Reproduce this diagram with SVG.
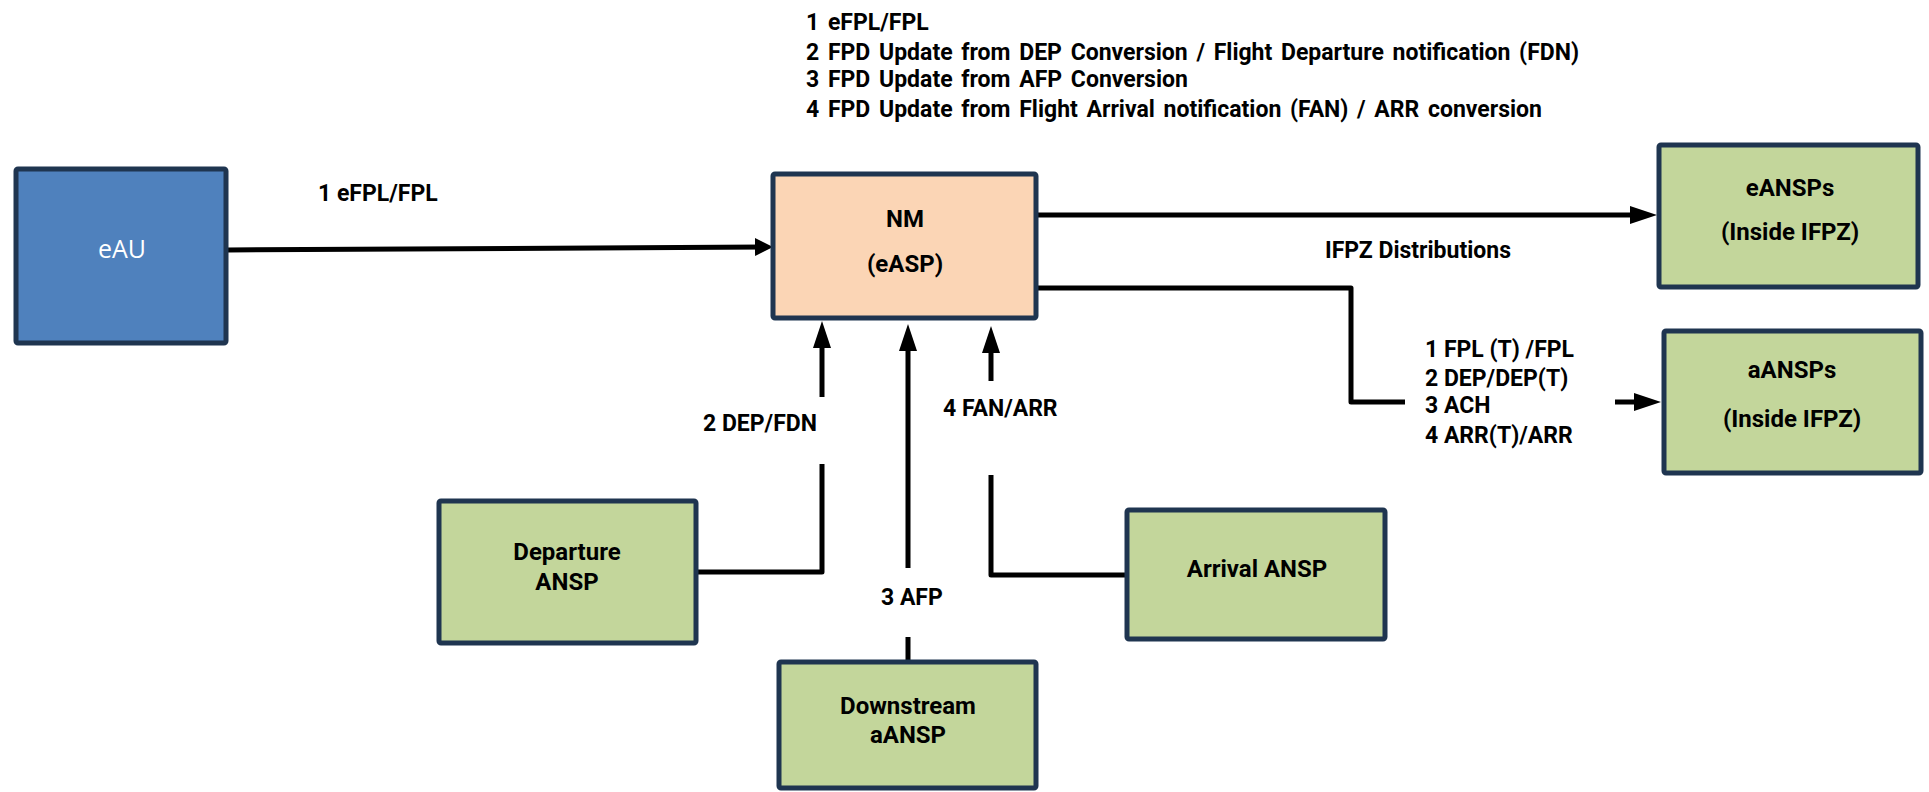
<svg xmlns="http://www.w3.org/2000/svg" width="1929" height="792" viewBox="0 0 1929 792">
<defs>
<style>
.box{stroke:#1F3550;stroke-width:5;stroke-linejoin:round}
.blue{fill:#4F81BD}
.peach{fill:#FBD5B5}
.green{fill:#C3D69B}
.lbl{font-family:Roboto,"Liberation Sans",sans-serif;font-weight:bold;font-size:23px;fill:#000}
.top{word-spacing:3px}
.btxt{font-family:Roboto,"Liberation Sans",sans-serif;font-weight:bold;font-size:24px;fill:#000;text-anchor:middle}
.wtxt{font-family:"Open Sans","Liberation Sans",sans-serif;font-size:25px;fill:#fff;text-anchor:middle}
.conn{fill:none;stroke:#000;stroke-width:5;stroke-linejoin:round}
</style>
<marker id="ah" markerUnits="userSpaceOnUse" markerWidth="28" markerHeight="20" refX="17" refY="9" orient="auto">
<path d="M0,0 L27,9 L0,18 z" fill="#000"/>
</marker>
<marker id="ahs" markerUnits="userSpaceOnUse" markerWidth="20" markerHeight="20" refX="10" refY="9" orient="auto">
<path d="M0,0 L18,9 L0,18 z" fill="#000"/>
</marker>
</defs>
<rect width="1929" height="792" fill="#fff"/>

<g id="legend">
<text class="lbl top" x="806" y="30">1 eFPL/FPL</text>
<text class="lbl top" x="806" y="60">2 FPD Update from DEP Conversion / Flight Departure notification (FDN)</text>
<text class="lbl top" x="806" y="87">3 FPD Update from AFP Conversion</text>
<text class="lbl top" x="806" y="117">4 FPD Update from Flight Arrival notification (FAN) / ARR conversion</text>
</g>

<g id="connectors">
<path class="conn" d="M228,250 L765,247" marker-end="url(#ahs)"/>
<path class="conn" d="M1038,215 L1647,215" marker-end="url(#ah)"/>
<path class="conn" d="M1038,288 L1351,288 L1351,402 L1405,402"/>
<path class="conn" d="M1615,402 L1651,402" marker-end="url(#ah)"/>
<path class="conn" d="M698,572 L822,572 L822,464"/>
<path class="conn" d="M822,397 L822,331" marker-end="url(#ah)"/>
<path class="conn" d="M908,568 L908,334" marker-end="url(#ah)"/>
<path class="conn" d="M908,637 L908,660"/>
<path class="conn" d="M991,381 L991,336" marker-end="url(#ah)"/>
<path class="conn" d="M991,475 L991,575 L1125,575"/>
<text class="lbl" x="318" y="201">1 eFPL/FPL</text>
<text class="lbl" x="1325" y="258">IFPZ Distributions</text>
<text class="lbl" x="1425" y="357">1 FPL  (T) /FPL</text>
<text class="lbl" x="1425" y="386">2 DEP/DEP(T)</text>
<text class="lbl" x="1425" y="413">3 ACH</text>
<text class="lbl" x="1425" y="443">4 ARR(T)/ARR</text>
<text class="lbl" x="703" y="431">2 DEP/FDN</text>
<text class="lbl" x="881" y="605">3 AFP</text>
<text class="lbl" x="943" y="416">4 FAN/ARR</text>
</g>

<g id="eAU">
<rect class="box blue" x="16" y="169" width="210" height="174" rx="2"/>
<text class="wtxt" x="122" y="258">eAU</text>
</g>

<g id="NM">
<rect class="box peach" x="773" y="174" width="263" height="144" rx="2"/>
<text class="btxt" x="905" y="227">NM</text>
<text class="btxt" x="905" y="272">(eASP)</text>
</g>

<g id="eANSPs">
<rect class="box green" x="1659" y="145" width="259" height="142" rx="2"/>
<text class="btxt" x="1790" y="196">eANSPs</text>
<text class="btxt" x="1790" y="240">(Inside IFPZ)</text>
</g>

<g id="aANSPs">
<rect class="box green" x="1664" y="331" width="257" height="142" rx="2"/>
<text class="btxt" x="1792" y="378">aANSPs</text>
<text class="btxt" x="1792" y="427">(Inside IFPZ)</text>
</g>

<g id="departure">
<rect class="box green" x="439" y="501" width="257" height="142" rx="2"/>
<text class="btxt" x="567" y="560">Departure</text>
<text class="btxt" x="567" y="590">ANSP</text>
</g>

<g id="downstream">
<rect class="box green" x="779" y="662" width="257" height="126" rx="2"/>
<text class="btxt" x="908" y="714">Downstream</text>
<text class="btxt" x="908" y="743">aANSP</text>
</g>

<g id="arrival">
<rect class="box green" x="1127" y="510" width="258" height="129" rx="2"/>
<text class="btxt" x="1257" y="577">Arrival ANSP</text>
</g>
</svg>
